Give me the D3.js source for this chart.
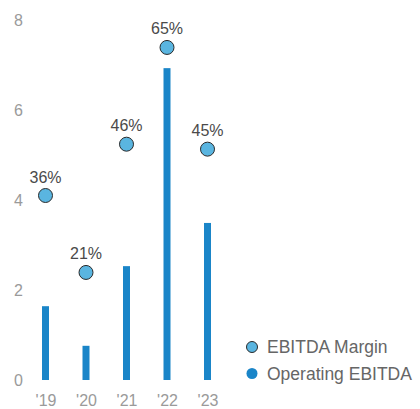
<!DOCTYPE html>
<meta charset="utf-8">
<style>
body { margin: 0; background: #fff; }
text { font-family: "Liberation Sans", Arial, sans-serif; }
</style>
<svg width="420" height="409"></svg>
<script src="https://d3js.org/d3.v7.min.js"></script>
<script>

var years = ["'19", "'20", "'21", "'22", "'23"];
var operatingEbitda = [1.64, 0.76, 2.53, 6.93, 3.49];
var ebitdaMargin = [4.10, 2.39, 5.24, 7.39, 5.13];
var marginLabels = ["36%", "21%", "46%", "65%", "45%"];
var yTicks = [0, 2, 4, 6, 8];
var legendItems = ["EBITDA Margin", "Operating EBITDA"];

var barColor = "#1a85c8",
    dotColor = "#5ab5e0";

var svg = d3.select("svg");

var x = d3.scalePoint()
    .domain(years)
    .range([45.5, 207.5]);

var y = d3.scaleLinear()
    .domain([0, 8])
    .range([380, 20]);

// y axis labels
var yAxis = svg.append("g")
    .attr("transform", "translate(23,0)")
    .call(d3.axisLeft(y).tickValues(yTicks).tickSize(0).tickPadding(0));
yAxis.select(".domain").remove();
yAxis.selectAll("text")
    .attr("fill", "#9a9a9a")
    .attr("font-size", "16px")
    .style("font-family", "'Liberation Sans', Arial, sans-serif");

// x axis labels
var xAxis = svg.append("g")
    .attr("transform", "translate(0,394)")
    .call(d3.axisBottom(x).tickSize(0).tickPadding(0));
xAxis.select(".domain").remove();
xAxis.selectAll("text")
    .attr("fill", "#9a9a9a")
    .attr("font-size", "16px")
    .attr("dy", "0.75em")
    .style("font-family", "'Liberation Sans', Arial, sans-serif");

// bars
svg.selectAll(".bar")
    .data(operatingEbitda)
    .enter().append("rect")
    .attr("class", "bar")
    .attr("x", function(d, i) { return x(years[i]) - 3.5; })
    .attr("width", 7)
    .attr("y", function(d) { return y(d); })
    .attr("height", function(d) { return y(0) - y(d); })
    .attr("fill", barColor);

// margin dots
svg.selectAll(".dot")
    .data(ebitdaMargin)
    .enter().append("circle")
    .attr("class", "dot")
    .attr("cx", function(d, i) { return x(years[i]); })
    .attr("cy", function(d) { return y(d); })
    .attr("r", 7)
    .attr("fill", dotColor)
    .attr("stroke", "#2b2b2b")
    .attr("stroke-width", 1);

svg.selectAll(".lbl")
    .data(ebitdaMargin)
    .enter().append("text")
    .attr("class", "lbl")
    .attr("x", function(d, i) { return x(years[i]); })
    .attr("y", function(d) { return y(d) - 13; })
    .attr("text-anchor", "middle")
    .attr("fill", "#4a4a4a")
    .attr("font-size", "16px")
    .text(function(d, i) { return marginLabels[i]; });

// legend
var legend = svg.selectAll(".legend")
    .data(legendItems)
    .enter().append("g")
    .attr("class", "legend")
    .attr("transform", function(d, i) { return "translate(252," + (347 + i * 26.5) + ")"; });

legend.append("circle")
    .attr("r", 5.5)
    .attr("fill", function(d, i) { return i == 0 ? dotColor : barColor; })
    .attr("stroke", function(d, i) { return i == 0 ? "#2b2b2b" : "none"; })
    .attr("stroke-width", 1);

legend.append("text")
    .attr("x", 15)
    .attr("dy", "0.35em")
    .attr("fill", "#666")
    .attr("font-size", "17.5px")
    .text(function(d) { return d; });

</script>
